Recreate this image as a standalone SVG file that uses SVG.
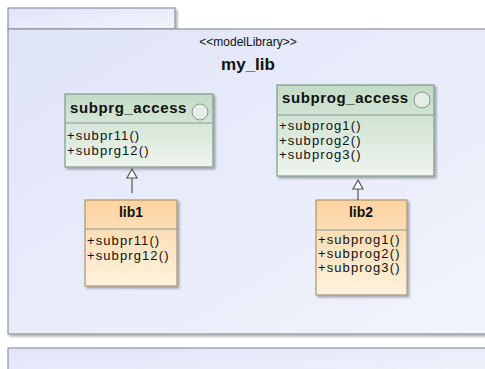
<svg xmlns="http://www.w3.org/2000/svg" width="485" height="369" viewBox="0 0 485 369">
<defs>
<linearGradient id="pkg" x1="0" y1="0" x2="1" y2="1">
<stop offset="0" stop-color="#dfe4f8"/><stop offset="1" stop-color="#f2f4fc"/>
</linearGradient>
<linearGradient id="grn" x1="0" y1="0" x2="0" y2="1">
<stop offset="0" stop-color="#c3dbc6"/><stop offset="1" stop-color="#eef5ee"/>
</linearGradient>
<linearGradient id="org" x1="0" y1="0" x2="0" y2="1">
<stop offset="0" stop-color="#fbd3a0"/><stop offset="1" stop-color="#fff2de"/>
</linearGradient>
<filter id="sh" x="-10%" y="-10%" width="130%" height="130%">
<feDropShadow dx="2" dy="2" stdDeviation="1.2" flood-color="#000" flood-opacity="0.3"/>
</filter>
</defs>
<style>
.pk{fill:url(#pkg);stroke:#8f939c;stroke-width:1.2}
.g{fill:url(#grn);stroke:#7d9c8a;stroke-width:1.2}
.o{fill:url(#org);stroke:#a89572;stroke-width:1.2}
.sep{stroke:#8a9a90;stroke-width:1}
.t{font-family:"Liberation Sans",Arial,sans-serif;fill:#111}
.b{font-weight:bold;letter-spacing:0.6px}
.op{font-size:13px;letter-spacing:1.1px}
.edge{stroke:#555;stroke-width:1.2;fill:none}
.head{fill:#fff;stroke:#555;stroke-width:1.2}
</style>
<g id="package_my_lib">
<rect class="pk" x="8" y="8" width="167" height="21" filter="url(#sh)"/>
<rect class="pk" x="8" y="29" width="490" height="305" filter="url(#sh)"/>
<text class="t" x="248" y="46" font-size="12" text-anchor="middle">&lt;&lt;modelLibrary&gt;&gt;</text>
<text class="t" x="248" y="70" font-size="17" font-weight="bold" text-anchor="middle">my_lib</text>
</g>
<g id="package_2">
<rect class="pk" x="8" y="348" width="490" height="30"/>
</g>
<g id="subprg_access">
<rect class="g" x="65" y="94" width="148" height="73" filter="url(#sh)"/>
<line class="sep" x1="65" y1="123" x2="213" y2="123"/>
<text class="t b" x="70" y="113" font-size="15">subprg_access</text>
<circle cx="200" cy="112" r="8" fill="#e6eee6" stroke="#7d9c8a"/>
<text class="t op" x="67" y="140">+subpr11()</text>
<text class="t op" x="67" y="155">+subprg12()</text>
</g>
<g id="subprog_access">
<rect class="g" x="277" y="85" width="157" height="91" filter="url(#sh)"/>
<line class="sep" x1="277" y1="115" x2="434" y2="115"/>
<text class="t b" x="282" y="103" font-size="15">subprog_access</text>
<circle cx="422" cy="100" r="8" fill="#e6eee6" stroke="#7d9c8a"/>
<text class="t op" x="279" y="130">+subprog1()</text>
<text class="t op" x="279" y="145">+subprog2()</text>
<text class="t op" x="279" y="159">+subprog3()</text>
</g>
<g id="lib1">
<rect class="o" x="85" y="200" width="92" height="86" filter="url(#sh)"/>
<line class="sep" x1="85" y1="229" x2="177" y2="229" stroke="#a89572"/>
<text class="t" x="131" y="217" font-size="14" font-weight="bold" text-anchor="middle">lib1</text>
<text class="t op" x="87" y="245">+subpr11()</text>
<text class="t op" x="87" y="260">+subprg12()</text>
</g>
<g id="lib2">
<rect class="o" x="316" y="200" width="91" height="95" filter="url(#sh)"/>
<line class="sep" x1="316" y1="230" x2="407" y2="230" stroke="#a89572"/>
<text class="t" x="361" y="217" font-size="14" font-weight="bold" text-anchor="middle">lib2</text>
<text class="t op" x="318" y="244">+subprog1()</text>
<text class="t op" x="318" y="258">+subprog2()</text>
<text class="t op" x="318" y="272">+subprog3()</text>
</g>
<g id="connectors">
<path class="edge" d="M132 193 L132 178"/>
<path class="head" d="M132 169 L127 178 L137 178 Z"/>
<path class="edge" d="M358 200 L358 189"/>
<path class="head" d="M358 180 L353 189 L363 189 Z"/>
</g>
</svg>
